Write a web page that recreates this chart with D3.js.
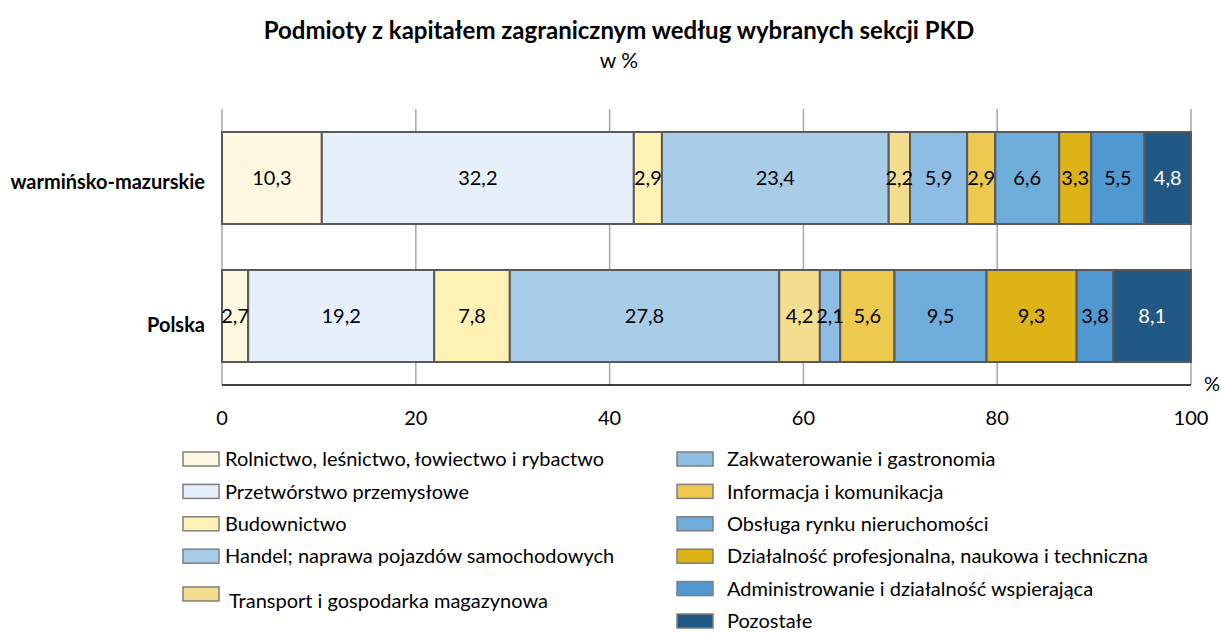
<!DOCTYPE html>
<html lang="pl">
<head>
<meta charset="UTF-8">
<title>Podmioty z kapitałem zagranicznym</title>
<script src="https://cdnjs.cloudflare.com/ajax/libs/d3/7.9.0/d3.min.js"></script>
<style>
  body { margin: 0; background: #fff; }
  svg text { font-family: Lato, "Open Sans", sans-serif; fill: #000; }
</style>
</head>
<body>
<svg id="chart" width="1221" height="633"></svg>
<script>
// dane
const regions = ["warmińsko-mazurskie", "Polska"];
const sections = [
  "Rolnictwo, leśnictwo, łowiectwo i rybactwo",
  "Przetwórstwo przemysłowe",
  "Budownictwo",
  "Handel; naprawa pojazdów samochodowych",
  "Transport i gospodarka magazynowa",
  "Zakwaterowanie i gastronomia",
  "Informacja i komunikacja",
  "Obsługa rynku nieruchomości",
  "Działalność profesjonalna, naukowa i techniczna",
  "Administrowanie i działalność wspierająca",
  "Pozostałe"
];
const valuesWM = [10.3, 32.2, 2.9, 23.4, 2.2, 5.9, 2.9, 6.6, 3.3, 5.5, 4.8];
const valuesPL = [2.7, 19.2, 7.8, 27.8, 4.2, 2.1, 5.6, 9.5, 9.3, 3.8, 8.1];
const xTicks = [0, 20, 40, 60, 80, 100];
const colors = ["#fff8e0", "#e6f0fa", "#fff2b4", "#a9cde8", "#f3dd8f", "#8dbde3",
                "#edc950", "#6eacd9", "#ddb317", "#4f98d2", "#225884"];

const svg = d3.select("#chart");
const plotL = 222, plotR = 1191, plotT = 109, plotB = 385;

const x = d3.scaleLinear().domain([0, 100]).range([plotL, plotR]);
const y = d3.scaleBand().domain(regions).range([plotT, plotB])
  .paddingInner(1 / 3).paddingOuter(1 / 6);

// tytuł
svg.append("text").attr("x", 619).attr("y", 39).attr("text-anchor", "middle")
  .attr("font-size", "24px").attr("font-weight", "bold")
  .text("Podmioty z kapitałem zagranicznym według wybranych sekcji PKD");
svg.append("text").attr("x", 619).attr("y", 68).attr("text-anchor", "middle")
  .attr("font-size", "21px").text("w %");

// linie siatki
svg.append("g").selectAll("line").data(xTicks).join("line")
  .attr("x1", d => x(d)).attr("x2", d => x(d))
  .attr("y1", plotT).attr("y2", plotB)
  .attr("stroke", "#a6a6a6").attr("stroke-width", 1.5);

// słupki
const rows = regions.map((r, i) => {
  const vals = i === 0 ? valuesWM : valuesPL;
  let acc = 0;
  return vals.map((v, j) => {
    const d = { region: r, idx: j, value: v, x0: acc, x1: Math.min(100, acc + v) };
    acc += v;
    return d;
  });
});
const segs = rows.flat();

svg.append("g").selectAll("rect").data(segs).join("rect")
  .attr("x", d => x(d.x0)).attr("width", d => x(d.x1) - x(d.x0))
  .attr("y", d => y(d.region)).attr("height", y.bandwidth())
  .attr("fill", d => colors[d.idx])
  .attr("stroke", "#595959").attr("stroke-width", 2);

svg.append("g").selectAll("text").data(segs).join("text")
  .attr("x", d => (x(d.x0) + x(d.x1)) / 2)
  .attr("y", d => y(d.region) + y.bandwidth() / 2)
  .attr("dy", "0.36em").attr("text-anchor", "middle")
  .attr("font-size", "20px")
  .style("fill", d => d.idx === 10 ? "#fff" : "#000")
  .text(d => String(d.value).replace(".", ","));

// oś X
svg.append("line").attr("x1", plotL).attr("x2", plotR).attr("y1", plotB).attr("y2", plotB)
  .attr("stroke", "#000").attr("stroke-width", 1.5);

svg.append("g").selectAll("text").data(xTicks).join("text")
  .attr("x", d => x(d)).attr("y", 418).attr("dy", "0.36em")
  .attr("text-anchor", "middle").attr("font-size", "20px")
  .text(d => d);
svg.append("text").attr("x", 1212).attr("y", 384).attr("dy", "0.36em")
  .attr("text-anchor", "middle").attr("font-size", "20px").text("%");

// oś Y
svg.append("g").selectAll("text").data(regions).join("text")
  .attr("x", 205).attr("y", (d, i) => y(d) + y.bandwidth() / 2 + (i === 0 ? 4 : 9))
  .attr("dy", "0.36em").attr("text-anchor", "end")
  .attr("font-size", "20px").attr("font-weight", "bold")
  .text(d => d);

// legenda
const legend = sections.map((s, i) => {
  const col = i < 5 ? 0 : 1;
  const row = col === 0 ? i : i - 5;
  return { name: s, idx: i, col: col, row: row };
});
const lg = svg.append("g").selectAll("g").data(legend).join("g")
  .attr("transform", d => {
    const lx = d.col === 0 ? 183 : 677;
    let ly = 459 + d.row * 32.4;
    if (d.col === 0 && d.row === 4) ly = 594;
    return `translate(${lx},${ly})`;
  });
lg.append("rect").attr("x", 0).attr("y", -7).attr("width", 36).attr("height", 14)
  .attr("fill", d => colors[d.idx]).attr("stroke", "#7f7f7f").attr("stroke-width", 1.5);
lg.append("text")
  .attr("x", d => d.col === 0 ? (d.row === 4 ? 46 : 42) : 50)
  .attr("y", d => (d.col === 0 && d.row === 4) ? 7 : 0)
  .attr("dy", "0.36em").attr("font-size", "20px")
  .text(d => d.name);
</script>
</body>
</html>
